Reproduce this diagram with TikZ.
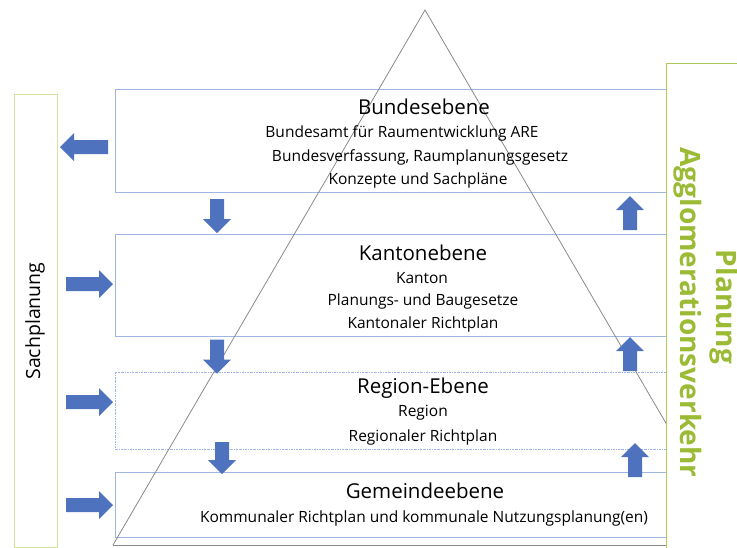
\documentclass[tikz,border=0pt]{standalone}
\usepackage{fontspec}
\setmainfont{Open Sans}
\definecolor{arrowblue}{HTML}{4F72BE}
\definecolor{boxblue}{HTML}{9FB6E2}
\definecolor{olive}{HTML}{9BBB35}
\definecolor{paleolive}{HTML}{D5E39A}
\definecolor{trigrey}{HTML}{8A8A8A}
\tikzset{
  levelbox/.style={draw=boxblue, line width=1pt},
  titletext/.style={font=\fontsize{20.5}{22}\selectfont, anchor=center, inner sep=0},
  subtext/.style={font=\fontsize{15.5}{17}\selectfont, anchor=center, inner sep=0},
  arrowfill/.style={fill=arrowblue},
  greentext/.style={font=\bfseries\fontsize{28}{30}\selectfont, text=olive, inner sep=0},
}
% #1 x, #2 y, #3 rotation (0 = right, 90 = up, 180 = left, 270 = down), #4 half length
\newcommand\blockarrowshape[4]{%
  \begin{scope}[shift={(#1,#2)}, rotate=#3]
    \fill[arrowfill] (-#4,-7) -- ({#4-14},-7) -- ({#4-14},-14) -- (#4,0)
      -- ({#4-14},14) -- ({#4-14},7) -- (-#4,7) -- cycle;
  \end{scope}}
\begin{document}
\begin{tikzpicture}[x=1pt,y=-1pt]
\useasboundingbox (0,0) rectangle (737,547);
\fill[white] (0,0) rectangle (737,547);
% level boxes
\draw[levelbox] (115,89) rectangle (666,192);
\draw[levelbox] (115,234) rectangle (666,336);
\draw[draw=boxblue, line width=0.8pt, dash pattern=on 2pt off 1pt on 0.6pt off 1pt] (115,372) rectangle (666,449);
\draw[levelbox] (115,472) rectangle (666,537);
% triangle
\coordinate (apex) at (425,10);
\coordinate (bl) at (113,545);
\coordinate (br) at (737,545);
\coordinate (bm) at (666,545);
\draw[trigrey, line width=0.8pt] (bl) -- (apex) -- (br);
\draw[trigrey, line width=1pt] (bl) -- (bm);
% texts
\node[titletext] (t1) at (424,107) {Bundesebene};
\node[subtext] (s11) at (402,133) {Bundesamt für Raumentwicklung ARE};
\node[subtext] (s12) at (420,157) {Bundesverfassung, Raumplanungsgesetz};
\node[subtext] (s13) at (418,180) {Konzepte und Sachpläne};
\node[titletext] (t2) at (423,253) {Kantonebene};
\node[subtext] (s21) at (422,278) {Kanton};
\node[subtext] (s22) at (423,301) {Planungs- und Baugesetze};
\node[subtext] (s23) at (423,324) {Kantonaler Richtplan};
\node[titletext] (t3) at (423,388) {Region-Ebene};
\node[subtext] (s31) at (423,413) {Region};
\node[subtext] (s32) at (423,437) {Regionaler Richtplan};
\node[titletext] (t4) at (425,491) {Gemeindeebene};
\node[subtext] (s41) at (424,518) {Kommunaler Richtplan und kommunale Nutzungsplanung(en)};
% block arrows
\blockarrowshape{217}{216}{270}{17}
\blockarrowshape{217}{356.5}{270}{17}
\blockarrowshape{222}{458}{270}{16}
\blockarrowshape{630}{213}{90}{17}
\blockarrowshape{630}{354}{90}{17}
\blockarrowshape{635}{460}{90}{17}
\blockarrowshape{84}{147}{180}{24}
\blockarrowshape{89.5}{284}{0}{23.5}
\blockarrowshape{89.5}{402}{0}{23.5}
\blockarrowshape{89.5}{505}{0}{23.5}
% left box
\draw[paleolive, line width=1pt] (14,94.5) rectangle (57,547);
\node[rotate=90, font=\fontsize{19.5}{21}\selectfont, inner sep=0] (sach) at (35,321) {Sachplanung};
% right box
\filldraw[fill=white, draw=olive!80, line width=1pt] (666,63) rectangle (760,560);
\node[rotate=-90, greentext] (agg) at (688,312.5) {Agglomerationsverkehr};
\node[rotate=-90, greentext] (plan) at (724,307) {Planung};
\end{tikzpicture}
\end{document}
